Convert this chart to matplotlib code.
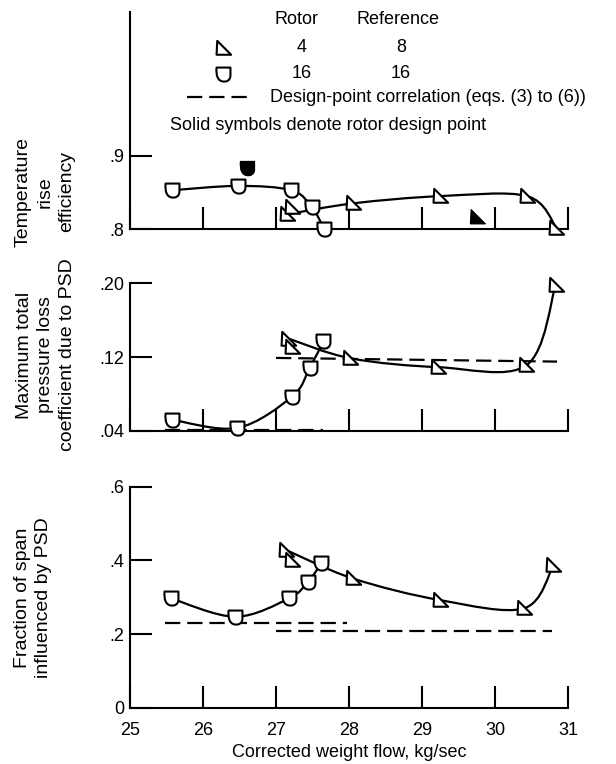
import numpy as np
import matplotlib
matplotlib.use("Agg")
import matplotlib.pyplot as plt
from matplotlib.path import Path
from matplotlib.patches import PathPatch
from matplotlib.lines import Line2D

# ---------------- data ----------------
x_ticks = [25, 26, 27, 28, 29, 30, 31]
x_ticklabels = ["25", "26", "27", "28", "29", "30", "31"]

# Temperature rise efficiency
eff_r4_x = [27.15, 27.22, 28.05, 29.25, 30.44, 30.84]
eff_r4_y = [0.820, 0.830, 0.835, 0.845, 0.845, 0.802]
eff_r16_x = [25.57, 26.48, 27.21, 27.49, 27.66]
eff_r16_y = [0.853, 0.859, 0.853, 0.830, 0.800]
eff_design_r4_x, eff_design_r4_y = [29.75], [0.817]
eff_design_r16_x, eff_design_r16_y = [26.60], [0.883]
eff_yticks = [0.8, 0.9]
eff_yticklabels = [".8", ".9"]

# Maximum total pressure loss coefficient due to PSD
loss_r4_x = [27.17, 27.22, 28.02, 29.22, 30.43, 30.83]
loss_r4_y = [0.140, 0.131, 0.1186, 0.109, 0.111, 0.198]
loss_r16_x = [25.57, 26.47, 27.22, 27.46, 27.65]
loss_r16_y = [0.052, 0.043, 0.077, 0.108, 0.137]
loss_corr_r16_x, loss_corr_r16_y = [25.48, 27.65], [0.041, 0.041]
loss_corr_r4_x, loss_corr_r4_y = [27.0, 30.85], [0.119, 0.115]
loss_yticks = [0.04, 0.12, 0.20]
loss_yticklabels = [".04", ".12", ".20"]

# Fraction of span influenced by PSD
span_r4_x = [27.14, 27.22, 28.05, 29.25, 30.40, 30.80]
span_r4_y = [0.428, 0.401, 0.351, 0.292, 0.270, 0.387]
span_r16_x = [25.56, 26.44, 27.18, 27.44, 27.62]
span_r16_y = [0.297, 0.247, 0.297, 0.342, 0.392]
span_corr_r16_x, span_corr_r16_y = [25.48, 27.97], [0.229, 0.229]
span_corr_r4_x, span_corr_r4_y = [27.0, 30.78], [0.208, 0.208]
span_yticks = [0.0, 0.2, 0.4, 0.6]
span_yticklabels = ["0", ".2", ".4", ".6"]

# points of the rotor-4 series that the faired curve passes through
r4_curve_idx = [0, 2, 3, 4, 5]

# ---------------- style ----------------
plt.rcParams["font.family"] = ["Liberation Sans", "DejaVu Sans"]
plt.rcParams["lines.scale_dashes"] = False
FS = 13
LW = 1.6

W_PX, H_PX = 616, 764
fig = plt.figure(figsize=(W_PX / 100, H_PX / 100), dpi=100)


def fx(px):
    return px / W_PX


def fy(py):
    return 1 - py / H_PX


# custom markers
tri_marker = Path([(-0.45, 0.55), (-0.5, -0.45), (0.55, -0.45), (-0.45, 0.55)],
                  [Path.MOVETO, Path.LINETO, Path.LINETO, Path.CLOSEPOLY])
shield_marker = Path(
    [(-0.5, 0.5), (0.5, 0.5), (0.5, -0.05),
     (0.5, -0.45), (0.2, -0.55), (-0.05, -0.5),
     (-0.4, -0.45), (-0.55, -0.1), (-0.5, 0.5), (-0.5, 0.5)],
    [Path.MOVETO, Path.LINETO, Path.LINETO,
     Path.CURVE4, Path.CURVE4, Path.CURVE4,
     Path.CURVE4, Path.CURVE4, Path.CURVE4, Path.CLOSEPOLY])
MS = 11


def smooth_path(xs, ys):
    P = np.column_stack([xs, ys]).astype(float)
    n = len(P)
    verts = [P[0]]
    codes = [Path.MOVETO]
    for i in range(n - 1):
        p0 = P[i - 1] if i > 0 else P[i]
        p1, p2 = P[i], P[i + 1]
        p3 = P[i + 2] if i + 2 < n else P[i + 1]
        c1 = p1 + (p2 - p0) / 6.0
        c2 = p2 - (p3 - p1) / 6.0
        verts += [c1, c2, p2]
        codes += [Path.CURVE4] * 3
    return Path(verts, codes)


def draw_series(ax, xs, ys, marker, curve_idx=None, filled=False):
    if curve_idx is None:
        curve_idx = range(len(xs))
    cx = [xs[i] for i in curve_idx]
    cy = [ys[i] for i in curve_idx]
    ax.add_patch(PathPatch(smooth_path(cx, cy), fill=False, lw=LW,
                           edgecolor="black", zorder=2, clip_on=False))
    ax.plot(xs, ys, ls="none", marker=marker, ms=MS, mew=1.5,
            mec="black", mfc="black" if filled else "white",
            zorder=3, clip_on=False)


def style_axes(ax, ylim, yticks, yticklabels, show_x):
    ax.set_xlim(25, 31)
    ax.set_ylim(*ylim)
    for s in ("top", "right"):
        ax.spines[s].set_visible(False)
    for s in ("left", "bottom"):
        ax.spines[s].set_linewidth(1.5)
    ax.set_xticks(x_ticks)
    ax.set_yticks(yticks)
    ax.set_yticklabels(yticklabels, fontsize=FS)
    if show_x:
        ax.set_xticklabels(x_ticklabels, fontsize=FS)
    else:
        ax.set_xticklabels([])
    ax.tick_params(direction="in", length=16, width=1.5, pad=4)
    ax.tick_params(axis="x", pad=10)
    ax.patch.set_visible(False)


L, Wd = fx(130), 438 / W_PX
ax1 = fig.add_axes([L, fy(229), Wd, 217 / H_PX])
ax2 = fig.add_axes([L, fy(430.7), Wd, 147.4 / H_PX])
ax3 = fig.add_axes([L, fy(707.7), Wd, 221 / H_PX])

style_axes(ax1, (0.8, 1.097), eff_yticks, eff_yticklabels, False)
style_axes(ax2, (0.04, 0.20), loss_yticks, loss_yticklabels, False)
style_axes(ax3, (0.0, 0.6), span_yticks, span_yticklabels, True)

DASH = dict(color="black", lw=LW, dashes=(11, 5), zorder=1)

# top
draw_series(ax1, eff_r4_x, eff_r4_y, tri_marker, r4_curve_idx)
draw_series(ax1, eff_r16_x, eff_r16_y, shield_marker)
ax1.plot(eff_design_r4_x, eff_design_r4_y, ls="none", marker=tri_marker,
         ms=MS, mfc="black", mec="black", zorder=3)
ax1.plot(eff_design_r16_x, eff_design_r16_y, ls="none", marker=shield_marker,
         ms=MS, mfc="black", mec="black", zorder=3)

# middle
ax2.plot(loss_corr_r16_x, loss_corr_r16_y, **DASH)
ax2.plot(loss_corr_r4_x, loss_corr_r4_y, **DASH)
draw_series(ax2, loss_r4_x, loss_r4_y, tri_marker, r4_curve_idx)
draw_series(ax2, loss_r16_x, loss_r16_y, shield_marker)

# bottom
ax3.plot(span_corr_r16_x, span_corr_r16_y, **DASH)
ax3.plot(span_corr_r4_x, span_corr_r4_y, **DASH)
draw_series(ax3, span_r4_x, span_r4_y, tri_marker, r4_curve_idx)
draw_series(ax3, span_r16_x, span_r16_y, shield_marker)

ax3.set_xlabel("Corrected weight flow, kg/sec", fontsize=FS, labelpad=4)

# y labels
YL = dict(rotation=90, ha="center", va="center", multialignment="center",
          fontsize=14, linespacing=1.35)
fig.text(fx(45), fy(192), "Temperature\nrise\nefficiency", **YL)
fig.text(fx(46), fy(355), "Maximum total\npressure loss\ncoefficient due to PSD", **YL)
fig.text(fx(33), fy(598), "Fraction of span\ninfluenced by PSD", **YL)

# legend (manual, table-like)
fig.text(fx(297), fy(20), "Rotor", ha="center", va="center", fontsize=FS)
fig.text(fx(398), fy(20), "Reference", ha="center", va="center", fontsize=FS)
fig.add_artist(Line2D([fx(223)], [fy(48)], transform=fig.transFigure, ls="none",
                      marker=tri_marker, ms=MS, mew=1.5, mec="black", mfc="white"))
fig.text(fx(302), fy(48), "4", ha="center", va="center", fontsize=FS)
fig.text(fx(401), fy(48), "8", ha="center", va="center", fontsize=FS)
fig.add_artist(Line2D([fx(223)], [fy(74)], transform=fig.transFigure, ls="none",
                      marker=shield_marker, ms=MS, mew=1.5, mec="black", mfc="white"))
fig.text(fx(302), fy(74), "16", ha="center", va="center", fontsize=FS)
fig.text(fx(401), fy(74), "16", ha="center", va="center", fontsize=FS)
fig.add_artist(Line2D([fx(187), fx(252)], [fy(97), fy(97)],
                      transform=fig.transFigure, color="black", lw=LW, dashes=(11, 5)))
fig.text(fx(270), fy(97), "Design-point correlation (eqs. (3) to (6))",
         ha="left", va="center", fontsize=FS)
fig.text(fx(170), fy(125), "Solid symbols denote rotor design point",
         ha="left", va="center", fontsize=FS)

fig.savefig("out.png", dpi=100)
